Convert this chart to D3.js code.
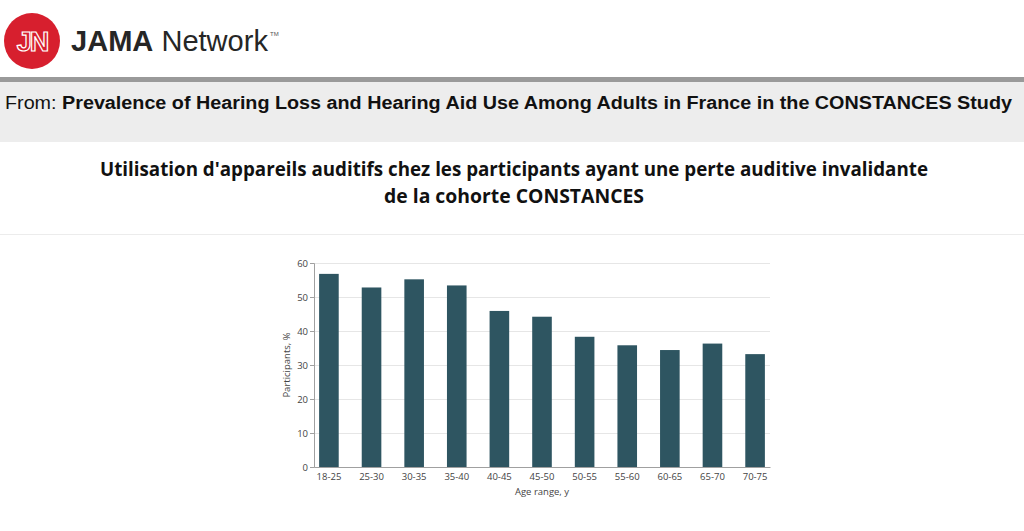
<!DOCTYPE html>
<html>
<head>
<meta charset="utf-8">
<script src="https://cdn.jsdelivr.net/npm/d3@7"></script>
<style>
  html, body { margin: 0; padding: 0; background: #fff; }
  svg { display: block; }
</style>
</head>
<body>
<svg width="1024" height="531"></svg>
<script>
// chart data
const ageRanges = ["18-25", "25-30", "30-35", "35-40", "40-45", "45-50", "50-55", "55-60", "60-65", "65-70", "70-75"];
const hearingAidUse = [56.8, 52.8, 55.2, 53.4, 45.9, 44.2, 38.3, 35.8, 34.4, 36.3, 33.2];
const yTicks = [0, 10, 20, 30, 40, 50, 60];

const sourceTitle = "Prevalence of Hearing Loss and Hearing Aid Use Among Adults in France in the CONSTANCES Study";
const chartTitle = ["Utilisation d'appareils auditifs chez les participants ayant une perte auditive invalidante",
                    "de la cohorte CONSTANCES"];

const svg = d3.select("svg");

// ---- header: logo + brand
svg.append("circle").attr("cx", 32).attr("cy", 41).attr("r", 28).attr("fill", "#d71f2e");
svg.append("text")
    .attr("x", 32).attr("y", 51)
    .attr("text-anchor", "middle")
    .style("font-family", "Liberation Sans, Arial, sans-serif")
    .style("font-size", "27px")
    .style("font-weight", "bold")
    .style("letter-spacing", "-2px")
    .attr("fill", "none")
    .attr("stroke", "#fff")
    .attr("stroke-width", 1.2)
    .text("JN");

const brand = svg.append("text")
    .attr("x", 71).attr("y", 51)
    .attr("textLength", 197)
    .attr("lengthAdjust", "spacingAndGlyphs")
    .style("font-family", "Liberation Sans, Arial, sans-serif")
    .style("font-size", "29px")
    .attr("fill", "#262626");
brand.append("tspan").style("font-weight", "bold").text("JAMA");
brand.append("tspan").text(" Network");
svg.append("text")
    .attr("x", 270).attr("y", 36)
    .style("font-family", "Liberation Sans, Arial, sans-serif")
    .style("font-size", "6px")
    .attr("fill", "#555")
    .text("TM");

// ---- "From:" band
svg.append("rect").attr("x", 0).attr("y", 77).attr("width", 1024).attr("height", 5).attr("fill", "#9a9a9a");
svg.append("rect").attr("x", 0).attr("y", 82).attr("width", 1024).attr("height", 60).attr("fill", "#ededed");
const from = svg.append("text")
    .attr("x", 5).attr("y", 109)
    .attr("textLength", 1007)
    .attr("lengthAdjust", "spacingAndGlyphs")
    .style("font-family", "Liberation Sans, Arial, sans-serif")
    .style("font-size", "17.5px")
    .attr("fill", "#111");
from.append("tspan").text("From: ");
from.append("tspan").style("font-weight", "bold").text(sourceTitle);

// ---- chart title
const titleWidths = [828, 260];
chartTitle.forEach((line, i) => {
    svg.append("text")
        .attr("x", 514).attr("y", 176 + i * 27)
        .attr("text-anchor", "middle")
        .attr("textLength", titleWidths[i])
        .attr("lengthAdjust", "spacingAndGlyphs")
        .style("font-family", "Open Sans, sans-serif")
        .style("font-size", "20px")
        .style("font-weight", "bold")
        .attr("fill", "#111")
        .text(line);
});
svg.append("line").attr("x1", 0).attr("x2", 1024).attr("y1", 234.5).attr("y2", 234.5)
    .attr("stroke", "#ececec");

// ---- bar chart
const margin = { left: 314, right: 770, top: 263, bottom: 467 };

const x = d3.scaleBand()
    .domain(ageRanges)
    .range([margin.left, margin.right])
    .paddingInner(0.54)
    .paddingOuter(0.12);

const y = d3.scaleLinear()
    .domain([0, 60])
    .range([margin.bottom, margin.top]);

const fontTick = "Open Sans, sans-serif";

// gridlines
svg.append("g")
    .selectAll("line")
    .data(yTicks.filter(d => d > 0))
    .join("line")
    .attr("x1", margin.left).attr("x2", margin.right)
    .attr("y1", d => Math.round(y(d)) + 0.5).attr("y2", d => Math.round(y(d)) + 0.5)
    .attr("stroke", "#e6e6e6");

// bars
svg.append("g")
    .selectAll("rect")
    .data(hearingAidUse)
    .join("rect")
    .attr("x", (d, i) => x(ageRanges[i]))
    .attr("y", d => y(d))
    .attr("width", x.bandwidth())
    .attr("height", d => y(0) - y(d))
    .attr("fill", "#2e5561");

// y axis
const yAxis = svg.append("g")
    .attr("transform", `translate(${margin.left},0)`)
    .call(d3.axisLeft(y).tickValues(yTicks).tickSize(4).tickPadding(2));
yAxis.select(".domain").attr("stroke", "#a0a0a0");
yAxis.selectAll(".tick line").attr("stroke", "#a0a0a0");
yAxis.selectAll("text")
    .style("font-family", fontTick)
    .style("font-size", "9.5px")
    .attr("fill", "#444");

// x axis
const xAxis = svg.append("g")
    .attr("transform", `translate(0,${margin.bottom})`)
    .call(d3.axisBottom(x).tickSize(0).tickPadding(6));
xAxis.select(".domain").attr("stroke", "#a0a0a0");
xAxis.selectAll("text")
    .style("font-family", fontTick)
    .style("font-size", "9.5px")
    .attr("fill", "#444");

// axis titles
svg.append("text")
    .attr("transform", `translate(290,${(margin.top + margin.bottom) / 2}) rotate(-90)`)
    .attr("text-anchor", "middle")
    .style("font-family", fontTick)
    .style("font-size", "9.5px")
    .attr("fill", "#444")
    .text("Participants, %");

svg.append("text")
    .attr("x", (margin.left + margin.right) / 2)
    .attr("y", 495)
    .attr("text-anchor", "middle")
    .style("font-family", fontTick)
    .style("font-size", "9.5px")
    .attr("fill", "#444")
    .text("Age range, y");
</script>
</body>
</html>
